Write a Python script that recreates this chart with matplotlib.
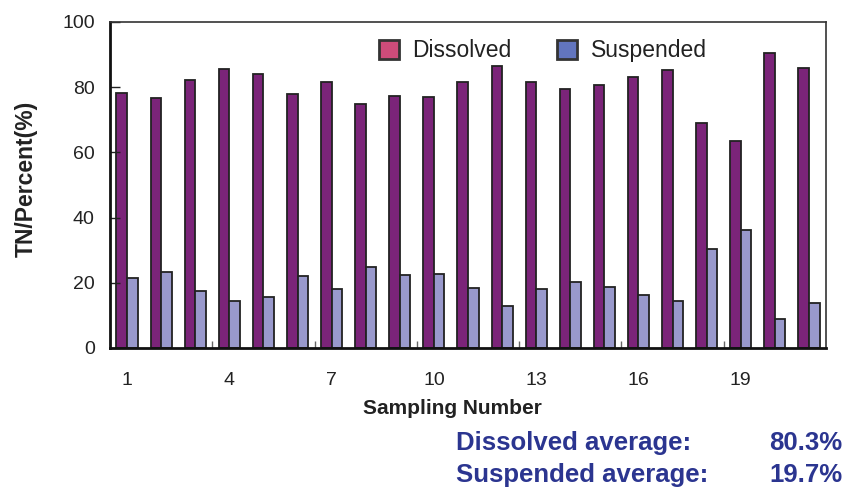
import numpy as np
import matplotlib.pyplot as plt
from matplotlib.patches import Patch

# TN share per sample (%)
samples = np.arange(1, 22)
dissolved = [78.3, 76.7, 82.1, 85.7, 84.2, 77.9, 81.6, 74.8, 77.3, 77.0, 81.7,
             86.6, 81.7, 79.5, 80.7, 83.2, 85.4, 69.1, 63.6, 90.6, 86.0]
suspended = [21.5, 23.3, 17.6, 14.3, 15.5, 22.0, 18.1, 24.9, 22.3, 22.6, 18.3,
             13.0, 18.0, 20.1, 18.8, 16.4, 14.3, 30.5, 36.1, 9.0, 13.7]
tick_samples = [1, 4, 7, 10, 13, 16, 19]
avg_labels = ["Dissolved average:", "Suspended average:"]
avg_values = ["80.3%", "19.7%"]

plt.rcParams["font.family"] = ["Liberation Sans", "DejaVu Sans"]

fig = plt.figure(figsize=(8.47, 4.87), dpi=100)
ax = fig.add_axes([110 / 847, 1 - 348 / 487, 716 / 847, 326 / 487])

x = np.arange(len(samples))
w = 0.31
ax.bar(x - w / 2, dissolved, w, color="#7b2479", edgecolor="#222222", linewidth=1.3)
ax.bar(x + w / 2, suspended, w, color="#9999cc", edgecolor="#222222", linewidth=1.3)

ax.set_xlim(-0.5, len(samples) - 0.5)
ax.set_ylim(0, 100)

ax.set_xticks([s - 1 for s in tick_samples])
ax.set_xticklabels([str(s) for s in tick_samples])
ax.tick_params(axis="x", which="major", length=0, pad=17, labelsize=14, labelcolor="#222222")
ax.set_xticks(np.arange(2.5, len(samples) - 1, 3), minor=True)
ax.tick_params(axis="x", which="minor", direction="in", length=5, width=1, color="#666666")

ax.set_yticks(range(0, 101, 20))
ax.tick_params(axis="y", direction="in", length=7, width=1, pad=11, labelsize=14,
               labelcolor="#222222", color="#222222")

for side in ("left", "bottom"):
    ax.spines[side].set_linewidth(2)
    ax.spines[side].set_color("#111111")
for side in ("top", "right"):
    ax.spines[side].set_linewidth(1.2)
    ax.spines[side].set_color("#333333")

ax.set_xlabel("Sampling Number", fontsize=15, fontweight="bold", color="#222222")
ax.xaxis.set_label_coords(0.478, -0.155)
ax.set_ylabel("TN/Percent(%)", fontsize=16.5, fontweight="bold", color="#222222")
ax.yaxis.set_label_coords(-0.101, 0.52)

handles = [Patch(facecolor="#cc4c7a", edgecolor="#333333", linewidth=2),
           Patch(facecolor="#6275be", edgecolor="#333333", linewidth=2)]
ax.legend(handles, ["Dissolved", "Suspended"], loc="upper right", bbox_to_anchor=(0.862, 1.01),
          ncol=2, frameon=False, fontsize=16.5, handlelength=0.85, handleheight=0.85,
          handletextpad=0.6, columnspacing=2.0, labelcolor="#222222")

navy = "#2b3590"
for i, (lab, val) in enumerate(zip(avg_labels, avg_values)):
    y = 1 - (450 + i * 32) / 487
    fig.text(456 / 847, y, lab, fontsize=18.5, fontweight="bold", color=navy, va="baseline")
    fig.text(842 / 847, y, val, fontsize=18.5, fontweight="bold", color=navy, va="baseline", ha="right")

fig.savefig("out.png", dpi=100)
